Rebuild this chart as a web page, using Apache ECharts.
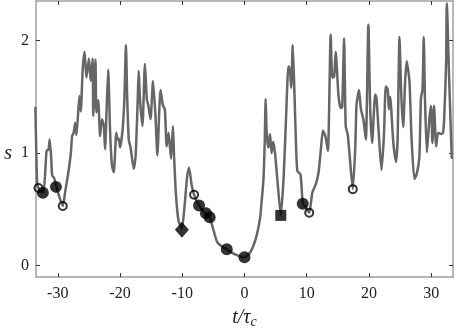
<!DOCTYPE html>
<html>
<head>
<meta charset="utf-8">
<script src="https://cdn.jsdelivr.net/npm/echarts@6/dist/echarts.min.js"></script>
<style>
  html, body { margin: 0; padding: 0; background: #fff; }
  #main { width: 457px; height: 334px; }
</style>
</head>
<body>
<div id="main"></div>
<script>
// time axis t/tau_c and s
const tVals = [
  -33.6, -33.45, -33.3, -33.1, -32.7, -32.3, -32.0, -31.8, -31.5, -31.3,
  -31.05, -30.9, -30.6, -30.3, -29.8, -29.2, -28.8, -28.3, -27.9, -27.7,
  -27.45, -27.2, -27.0, -26.7, -26.5, -26.3, -26.0, -25.7, -25.4, -25.0,
  -24.7, -24.4, -24.3, -23.95, -23.8, -23.5, -23.2, -22.9, -22.6, -22.4,
  -22.15, -21.9, -21.6, -21.3, -21.0, -20.6, -20.4, -20.2, -20.0, -19.6,
  -19.3, -19.05, -18.85, -18.6, -18.3, -17.8, -17.5, -17.2, -17.0, -16.8,
  -16.4, -16.0, -15.7, -15.45, -15.1, -14.7, -14.3, -14.0, -13.5, -13.1,
  -12.8, -12.5, -12.2, -11.8, -11.5, -11.3, -11.0, -10.6, -10.06, -9.6,
  -9.2, -8.9, -8.5, -8.1, -7.3, -6.3, -5.6, -5.0, -4.4, -3.6,
  -2.9, -1.5, -0.1, 0.8, 1.44, 2.0, 2.5, 2.8, 3.05, 3.25,
  3.4, 3.55, 3.7, 3.85, 4.1, 4.35, 4.6, 4.9, 5.3, 5.83,
  6.3, 6.7, 7.06, 7.3, 7.5, 7.75, 8.0, 8.3, 8.5, 9.0,
  9.36, 9.8, 10.4, 10.9, 11.5, 11.9, 12.3, 12.6, 13.0, 13.4,
  13.85, 14.1, 14.4, 14.65, 15.1, 15.45, 15.7, 16.0, 16.26, 16.6,
  16.9, 17.4, 17.8, 18.0, 18.4, 18.7, 19.1, 19.5, 19.9, 20.2,
  20.5, 21.0, 21.2, 21.5, 22.0, 22.4, 22.7, 23.0, 23.2, 23.4,
  23.9, 24.35, 24.6, 24.9, 25.2, 25.5, 25.8, 26.05, 26.5, 26.85,
  27.3, 27.7, 28.1, 28.35, 28.6, 28.8, 29.0, 29.3, 29.7, 29.95,
  30.2, 30.45, 30.8, 31.1, 31.6, 31.9, 32.1, 32.4, 32.5, 32.9,
  33.3
];
const sVals = [
  1.41, 1.0, 0.72, 0.69, 0.66, 0.65, 0.85, 1.02, 1.03, 1.12,
  0.95, 0.80, 0.78, 0.72, 0.62, 0.53, 0.66, 0.83, 1.0, 1.15,
  1.18, 1.27, 1.16, 1.38, 1.51, 1.37, 1.74, 1.90, 1.67, 1.84,
  1.64, 1.84, 1.33, 1.83, 1.36, 1.47, 1.15, 1.30, 1.24, 1.035,
  1.4, 1.74, 1.2, 0.89, 0.83, 1.18, 1.12, 1.13, 1.05, 1.2,
  1.48, 1.96, 1.5, 1.12, 1.05, 0.86, 0.97, 1.4, 1.73, 1.48,
  1.24, 1.79, 1.48, 1.42, 1.30, 1.64, 1.33, 0.98, 1.56, 1.42,
  1.39, 1.06, 1.18, 0.95, 1.24, 0.95, 0.62, 0.40, 0.33, 0.55,
  0.80, 0.87, 0.72, 0.63, 0.535, 0.46, 0.43, 0.32, 0.21, 0.17,
  0.146, 0.10, 0.075, 0.11, 0.18, 0.28, 0.42, 0.6, 0.77, 1.1,
  1.48, 1.2, 1.09, 1.05, 1.17, 1.0, 1.1, 1.0, 0.75, 0.45,
  0.8, 1.35, 1.77, 1.74, 1.58, 1.96, 1.58, 1.035, 0.84, 0.81,
  0.56, 0.52, 0.47, 0.65, 0.73, 0.83, 1.05, 1.20, 1.15, 1.02,
  2.05, 1.67, 1.68, 1.90, 1.51, 1.40, 1.41, 2.02, 1.24, 1.16,
  0.97, 0.68, 1.05, 1.43, 1.56, 1.39, 1.30, 1.12, 2.14, 1.39,
  1.09, 1.52, 1.49, 1.24, 0.85, 1.15, 1.59, 1.57, 1.39, 1.50,
  1.1, 0.92, 1.12, 2.03, 1.5, 1.23, 1.63, 1.815, 1.64, 1.12,
  0.77, 0.82, 0.97, 1.49, 1.56, 2.03, 1.47, 1.005, 1.3, 1.42,
  1.09, 1.42, 1.06, 1.18, 1.17, 1.18, 1.33, 1.815, 2.33, 1.63,
  0.95
];

// marked events
const openPts = [[-33.1, 0.69], [-29.2, 0.53], [-8.1, 0.63], [10.4, 0.47], [17.4, 0.68]];
const filledPts = [[-32.4, 0.647], [-30.3, 0.70], [-7.3, 0.535], [-6.2, 0.465], [-5.6, 0.43],
  [-2.85, 0.147], [0.0, 0.076], [9.36, 0.55]];
const diamondPts = [[-10.06, 0.32]];
const squarePts = [[5.83, 0.447]];

const xTicks = [-30, -20, -10, 0, 10, 20, 30];
const yTicks = [0, 1, 2];

const serif = "Liberation Serif";
const axisGray = "#a0a0a0";

const lineData = tVals.map((t, i) => [t, sVals[i]]);

const chart = echarts.init(document.getElementById("main"), null, { renderer: "canvas" });

const xBase = {
  type: "value", min: -33.5, max: 33.5,
  axisLine: { show: true, onZero: false, lineStyle: { color: axisGray, width: 1.5 } },
  axisTick: { show: true, inside: true, length: 4, customValues: xTicks, lineStyle: { color: "#333" } },
  splitLine: { show: false },
};
const yBase = {
  type: "value", min: -0.1, max: 2.35,
  axisLine: { show: true, onZero: false, lineStyle: { color: axisGray, width: 1.5 } },
  axisTick: { show: true, inside: true, length: 4, customValues: yTicks, lineStyle: { color: "#333" } },
  splitLine: { show: false },
};

chart.setOption({
  animation: false,
  backgroundColor: "#fff",
  grid: { left: 36, right: 4, top: 1, bottom: 56 },
  xAxis: [
    Object.assign({}, xBase, {
      position: "bottom",
      axisLabel: { customValues: xTicks, color: "#222", fontFamily: serif, fontSize: 16, margin: 9 },
      name: "{i|t/τ}{s|c}",
      nameLocation: "middle",
      nameGap: 30,
      nameTextStyle: {
        rich: {
          i: { fontFamily: serif, fontStyle: "italic", fontSize: 20, color: "#222" },
          s: { fontFamily: serif, fontStyle: "italic", fontSize: 14, color: "#222", padding: [8, 0, 0, 0] },
        },
      },
    }),
    Object.assign({}, xBase, { position: "top", axisLabel: { show: false } }),
  ],
  yAxis: [
    Object.assign({}, yBase, {
      position: "left",
      axisLabel: { customValues: yTicks, color: "#222", fontFamily: serif, fontSize: 16, margin: 7 },
    }),
    Object.assign({}, yBase, { position: "right", axisLabel: { show: false } }),
  ],
  graphic: [{
    type: "text", left: 4, top: 143,
    style: { text: "s", fill: "#222", font: "italic 21px " + serif },
  }],
  series: [
    {
      type: "line", data: lineData, showSymbol: false, smooth: 0.2,
      lineStyle: { color: "#666", width: 2.5 }, z: 2,
    },
    {
      type: "scatter", data: filledPts, symbol: "circle", symbolSize: 12,
      itemStyle: { color: "#000" }, z: 3,
    },
    {
      type: "scatter", data: openPts, symbol: "circle", symbolSize: 8,
      itemStyle: { color: "rgba(0,0,0,0)", borderColor: "#000", borderWidth: 2 }, z: 4,
    },
    {
      type: "scatter", data: diamondPts, symbol: "diamond", symbolSize: [14, 16],
      itemStyle: { color: "#000" }, z: 3,
    },
    {
      type: "scatter", data: squarePts, symbol: "rect", symbolSize: 11,
      itemStyle: { color: "#000" }, z: 3,
    },
  ],
});
</script>
</body>
</html>
